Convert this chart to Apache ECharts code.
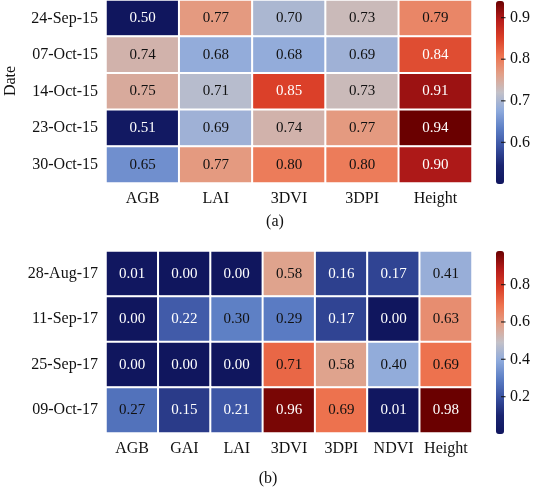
<!DOCTYPE html>
<html>
<head>
<meta charset="utf-8">
<script src="https://cdn.jsdelivr.net/npm/echarts@6/dist/echarts.min.js"></script>
<style>
html,body{margin:0;padding:0;background:#fff;}
#chart{width:533px;height:487px;}
</style>
</head>
<body>
<div id="chart"></div>
<script>
// ---- Data ----
var datesA = ['24-Sep-15', '07-Oct-15', '14-Oct-15', '23-Oct-15', '30-Oct-15'];
var varsA = ['AGB', 'LAI', '3DVI', '3DPI', 'Height'];
var valuesA = [
  [0.50, 0.77, 0.70, 0.73, 0.79],
  [0.74, 0.68, 0.68, 0.69, 0.84],
  [0.75, 0.71, 0.85, 0.73, 0.91],
  [0.51, 0.69, 0.74, 0.77, 0.94],
  [0.65, 0.77, 0.80, 0.80, 0.90]
];
var cbTicksA = [0.6, 0.7, 0.8, 0.9];

var datesB = ['28-Aug-17', '11-Sep-17', '25-Sep-17', '09-Oct-17'];
var varsB = ['AGB', 'GAI', 'LAI', '3DVI', '3DPI', 'NDVI', 'Height'];
var valuesB = [
  [0.01, 0.00, 0.00, 0.58, 0.16, 0.17, 0.41],
  [0.00, 0.22, 0.30, 0.29, 0.17, 0.00, 0.63],
  [0.00, 0.00, 0.00, 0.71, 0.58, 0.40, 0.69],
  [0.27, 0.15, 0.21, 0.96, 0.69, 0.01, 0.98]
];
var cbTicksB = [0.2, 0.4, 0.6, 0.8];

// ---- Style ----
var FONT = '"Liberation Serif", "DejaVu Serif", serif';
var cmap = ['#10165e', '#1a2470', '#3850a0', '#5b7dc4', '#8eaadc', '#c3c1c8',
            '#e2a088', '#ee7450', '#da3e27', '#b41b1a', '#6a0000'];

function flatMin(m) { return Math.min.apply(null, m.map(function (r) { return Math.min.apply(null, r); })); }
function flatMax(m) { return Math.max.apply(null, m.map(function (r) { return Math.max.apply(null, r); })); }

function buildData(vals) {
  var lo = flatMin(vals), hi = flatMax(vals);
  var out = [];
  vals.forEach(function (row, r) {
    row.forEach(function (v, c) {
      var t = (v - lo) / (hi - lo);
      out.push({
        value: [c, r, v],
        label: { color: (t < 0.25 || t > 0.75) ? '#ffffff' : '#111111' }
      });
    });
  });
  return out;
}

var minA = flatMin(valuesA), maxA = flatMax(valuesA);
var minB = flatMin(valuesB), maxB = flatMax(valuesB);

var gridA = { left: 106, top: 0, width: 366, height: 183 };
var gridB = { left: 106, top: 251, width: 366, height: 182 };
var cbA = { left: 496, top: 1, width: 8, height: 183 };
var cbB = { left: 496, top: 251, width: 8, height: 183 };

function catX(idx, data) {
  return {
    type: 'category', gridIndex: idx, data: data, position: 'bottom',
    axisLine: { show: false }, axisTick: { show: false }, splitLine: { show: false },
    axisLabel: { interval: 0, fontFamily: FONT, fontSize: 16, color: '#111', margin: 8 }
  };
}
function catY(idx, data) {
  return {
    type: 'category', gridIndex: idx, data: data, inverse: true,
    axisLine: { show: false }, axisTick: { show: false }, splitLine: { show: false },
    axisLabel: { interval: 0, fontFamily: FONT, fontSize: 16, color: '#111', margin: 8 }
  };
}
function cbX(idx) {
  return { type: 'value', gridIndex: idx, show: false, min: 0, max: 1 };
}
function cbY(idx, lo, hi, ticks) {
  return {
    type: 'value', gridIndex: idx, min: lo, max: hi, position: 'right',
    axisLine: { show: false },
    splitLine: { show: false },
    axisTick: { show: false },
    axisLabel: { customValues: ticks, fontFamily: FONT, fontSize: 16, color: '#111', margin: 9,
      formatter: function (v) { return v.toFixed(1); } }
  };
}
// colorbar tick marks: short dashes placed at the tick values on the colorbar axis
function tickSeries(xi, ticks) {
  return {
    type: 'scatter', xAxisIndex: xi, yAxisIndex: xi, silent: true,
    symbol: 'rect', symbolSize: [4.5, 1.3], symbolOffset: [2.3, 0],
    itemStyle: { color: '#111' },
    data: ticks.map(function (t) { return [1, t]; }),
    z: 10
  };
}

function heat(xi, yi, data) {
  return {
    type: 'heatmap', xAxisIndex: xi, yAxisIndex: yi, data: data,
    itemStyle: { borderColor: '#ffffff', borderWidth: 2 },
    label: {
      show: true, fontFamily: FONT, fontSize: 15,
      formatter: function (p) { return p.value[2].toFixed(2); }
    },
    emphasis: { disabled: true }
  };
}

var option = {
  backgroundColor: '#ffffff',
  animation: false,
  grid: [
    Object.assign({ containLabel: false }, gridA),
    Object.assign({ containLabel: false }, gridB),
    Object.assign({ containLabel: false }, cbA),
    Object.assign({ containLabel: false }, cbB)
  ],
  xAxis: [catX(0, varsA), catX(1, varsB), cbX(2), cbX(3)],
  yAxis: [catY(0, datesA), catY(1, datesB), cbY(2, minA, maxA, cbTicksA), cbY(3, minB, maxB, cbTicksB)],
  visualMap: [
    {
      type: 'continuous', seriesIndex: 0, min: minA, max: maxA, calculable: false,
      orient: 'vertical', left: cbA.left, top: cbA.top, itemWidth: cbA.width, itemHeight: cbA.height,
      padding: 0, showLabel: false, text: null, hoverLink: false,
      inRange: { color: cmap }
    },
    {
      type: 'continuous', seriesIndex: 1, min: minB, max: maxB, calculable: false,
      orient: 'vertical', left: cbB.left, top: cbB.top, itemWidth: cbB.width, itemHeight: cbB.height,
      padding: 0, showLabel: false, text: null, hoverLink: false,
      inRange: { color: cmap }
    }
  ],
  graphic: [
    { type: 'text', rotation: Math.PI / 2,
      style: { text: 'Date', fontFamily: FONT, fontSize: 16, fill: '#111', textAlign: 'center', textVerticalAlign: 'middle' },
      x: 11, y: 81 },
    { type: 'text', x: 275, y: 222,
      style: { text: '(a)', fontFamily: FONT, fontSize: 16, fill: '#111', textAlign: 'center', textVerticalAlign: 'middle' } },
    { type: 'text', x: 268, y: 479,
      style: { text: '(b)', fontFamily: FONT, fontSize: 16, fill: '#111', textAlign: 'center', textVerticalAlign: 'middle' } }
  ],
  series: [
    heat(0, 0, buildData(valuesA)),
    heat(1, 1, buildData(valuesB)),
    tickSeries(2, cbTicksA),
    tickSeries(3, cbTicksB)
  ]
};

var chart = echarts.init(document.getElementById('chart'), null, { renderer: 'canvas' });
chart.setOption(option);
</script>
</body>
</html>
